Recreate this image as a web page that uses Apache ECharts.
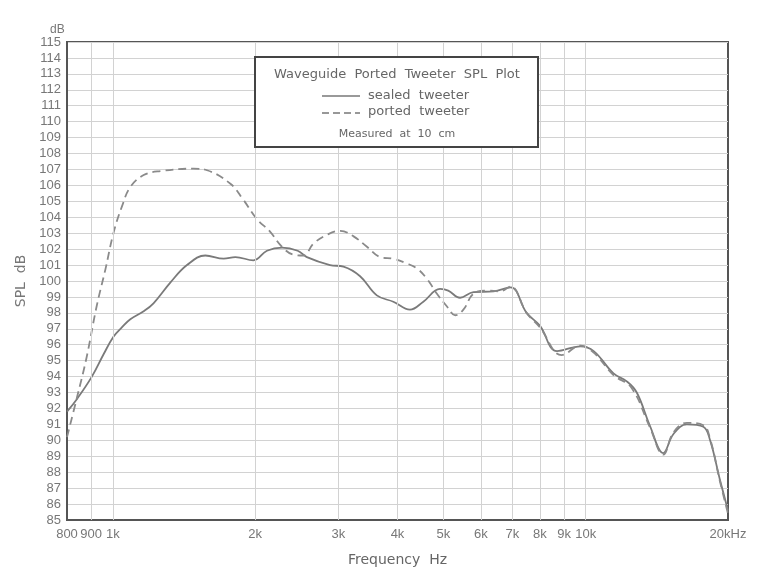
<!DOCTYPE html>
<html>
<head>
<meta charset="utf-8">
<script src="https://cdn.jsdelivr.net/npm/echarts@6/dist/echarts.min.js"></script>
<style>html,body{margin:0;padding:0;background:#fff}#c{width:765px;height:580px}</style>
</head>
<body>
<div id="c"></div>
<script>
// ---- data ----
var tickFreqs = [800, 900, 1000, 2000, 3000, 4000, 5000, 6000, 7000, 8000, 9000, 10000, 20000];
var tickLabels = ['800', '900', '1k', '2k', '3k', '4k', '5k', '6k', '7k', '8k', '9k', '10k', '20kHz'];

var sealedFreq = [800, 840, 903, 956, 1003, 1046, 1089, 1162, 1219, 1323, 1435, 1569, 1716, 1816, 1983, 2118, 2280, 2460, 2573, 2880, 3075, 3334, 3617, 3920, 4250, 4536, 4920, 5120, 5424, 5790, 6386, 6937, 7500, 8000, 8698, 9754, 10400, 11450, 12217, 12826, 13680, 14590, 15336, 16368, 17736, 18330, 19240, 20000];
var sealedDb = [91.8, 92.6, 94.0, 95.4, 96.5, 97.1, 97.6, 98.1, 98.6, 99.9, 101.0, 101.6, 101.4, 101.5, 101.3, 101.9, 102.1, 101.9, 101.5, 101.0, 100.9, 100.3, 99.1, 98.7, 98.2, 98.7, 99.5, 99.4, 98.95, 99.3, 99.35, 99.6, 98.0, 97.2, 95.6, 95.9, 95.6, 94.2, 93.7, 93.0, 90.9, 89.2, 90.4, 91.0, 90.85, 90.0, 87.5, 85.6];

var portedFreq = [800, 840, 880, 924, 964, 1003, 1046, 1089, 1162, 1260, 1482, 1582, 1773, 1888, 2015, 2150, 2278, 2412, 2532, 2656, 2838, 3027, 3230, 3447, 3678, 3920, 4184, 4390, 4614, 4847, 5090, 5297, 5513, 5790, 6190, 6594, 6937, 7500, 8000, 8900, 9754, 10400, 11450, 12500, 13680, 14590, 15336, 16368, 17736, 18330, 19240, 20000];
var portedDb = [90.2, 92.7, 95.2, 98.4, 100.7, 103.0, 104.7, 105.9, 106.65, 106.9, 107.05, 106.95, 106.1, 105.1, 103.9, 103.1, 102.15, 101.65, 101.6, 102.35, 102.9, 103.15, 102.8, 102.15, 101.5, 101.4, 101.1, 100.8, 100.15, 99.2, 98.4, 97.85, 98.2, 99.2, 99.4, 99.35, 99.65, 98.0, 97.1, 95.35, 95.95, 95.5, 94.1, 93.3, 90.8, 89.1, 90.5, 91.1, 90.95, 90.1, 87.4, 85.4];

var titleText = 'Waveguide  Ported  Tweeter  SPL  Plot';
var legendSealed = 'sealed  tweeter';
var legendPorted = 'ported  tweeter';
var noteText = 'Measured  at  10  cm';

function zip(xs, ys) { return xs.map(function (x, i) { return [x, ys[i]]; }); }

var labelMap = {};
tickFreqs.forEach(function (f, i) { labelMap[f] = tickLabels[i]; });

var FONT = "'Liberation Sans Narrow', 'Liberation Sans', sans-serif";
var FONT2 = "'DejaVu Sans', sans-serif";

var chart = echarts.init(document.getElementById('c'), null, { renderer: 'canvas' });
chart.setOption({
  animation: false,
  backgroundColor: '#fff',
  grid: { left: 67, right: 37, top: 42, bottom: 60, show: true, borderColor: '#555', borderWidth: 2, backgroundColor: 'transparent' },
  xAxis: {
    type: 'log', logBase: 10, min: 800, max: 20000,
    name: 'Frequency  Hz', nameLocation: 'middle', nameGap: 33,
    nameTextStyle: { color: '#666', fontSize: 14, fontFamily: FONT2 },
    axisLine: { show: true, lineStyle: { color: '#555', width: 2 } },
    axisTick: { show: false },
    splitLine: { show: false },
    minorSplitLine: { show: false },
    axisLabel: {
      customValues: tickFreqs,
      color: '#777', fontSize: 13, fontFamily: FONT, margin: 8,
      formatter: function (v) {
        var k = Math.round(v);
        return labelMap[k] !== undefined ? labelMap[k] : '';
      }
    }
  },
  yAxis: {
    type: 'value', min: 85, max: 115, interval: 1,
    name: 'SPL  dB', nameLocation: 'middle', nameGap: 33, nameRotate: 90,
    nameTextStyle: { color: '#777', fontSize: 14, fontFamily: FONT2 },
    axisLine: { show: true, lineStyle: { color: '#555', width: 2 } },
    axisTick: { show: false },
    axisLabel: { color: '#777', fontSize: 13, fontFamily: FONT, margin: 6 },
    splitLine: { show: true, lineStyle: { color: '#d2d2d2', width: 1 } }
  },
  series: [
    {
      name: 'grid', type: 'line', data: [[800, 85]], showSymbol: false, symbol: 'none', z: 1,
      lineStyle: { width: 0 }, silent: true,
      markLine: {
        silent: true, symbol: ['none', 'none'], animation: false,
        label: { show: false },
        lineStyle: { color: '#d2d2d2', type: 'solid', width: 1 },
        data: tickFreqs.slice(1, tickFreqs.length - 1).map(function (f) { return { xAxis: f }; })
      }
    },
    {
      name: 'sealed tweeter', type: 'line', data: zip(sealedFreq, sealedDb),
      smooth: 0.4, symbol: 'none', z: 3,
      lineStyle: { color: '#7a7a7a', width: 1.8, type: 'solid' }
    },
    {
      name: 'ported tweeter', type: 'line', data: zip(portedFreq, portedDb),
      smooth: 0.4, symbol: 'none', z: 3,
      lineStyle: { color: '#8a8a8a', width: 1.8, type: [8, 5] }
    }
  ],
  graphic: [
    { type: 'text', left: 50, top: 24, style: { text: 'dB', fill: '#777', font: '12px ' + FONT } },
    { type: 'rect', shape: { x: 255, y: 57, width: 283, height: 90 }, style: { fill: '#fff', stroke: '#444', lineWidth: 2 }, z: 10 },
    { type: 'text', x: 397, y: 75, style: { text: titleText, fill: '#666', font: '13px ' + FONT2, align: 'center', verticalAlign: 'middle' }, z: 11 },
    { type: 'line', shape: { x1: 322, y1: 96, x2: 360, y2: 96 }, style: { stroke: '#777', lineWidth: 1.6 }, z: 11 },
    { type: 'text', x: 368, y: 96, style: { text: legendSealed, fill: '#666', font: '13px ' + FONT2, align: 'left', verticalAlign: 'middle' }, z: 11 },
    { type: 'line', shape: { x1: 322, y1: 113, x2: 360, y2: 113 }, style: { stroke: '#777', lineWidth: 1.6, lineDash: [7, 4] }, z: 11 },
    { type: 'text', x: 368, y: 112, style: { text: legendPorted, fill: '#666', font: '13px ' + FONT2, align: 'left', verticalAlign: 'middle' }, z: 11 },
    { type: 'text', x: 397, y: 134, style: { text: noteText, fill: '#666', font: '11px ' + FONT2, align: 'center', verticalAlign: 'middle' }, z: 11 }
  ]
});
</script>
</body>
</html>
